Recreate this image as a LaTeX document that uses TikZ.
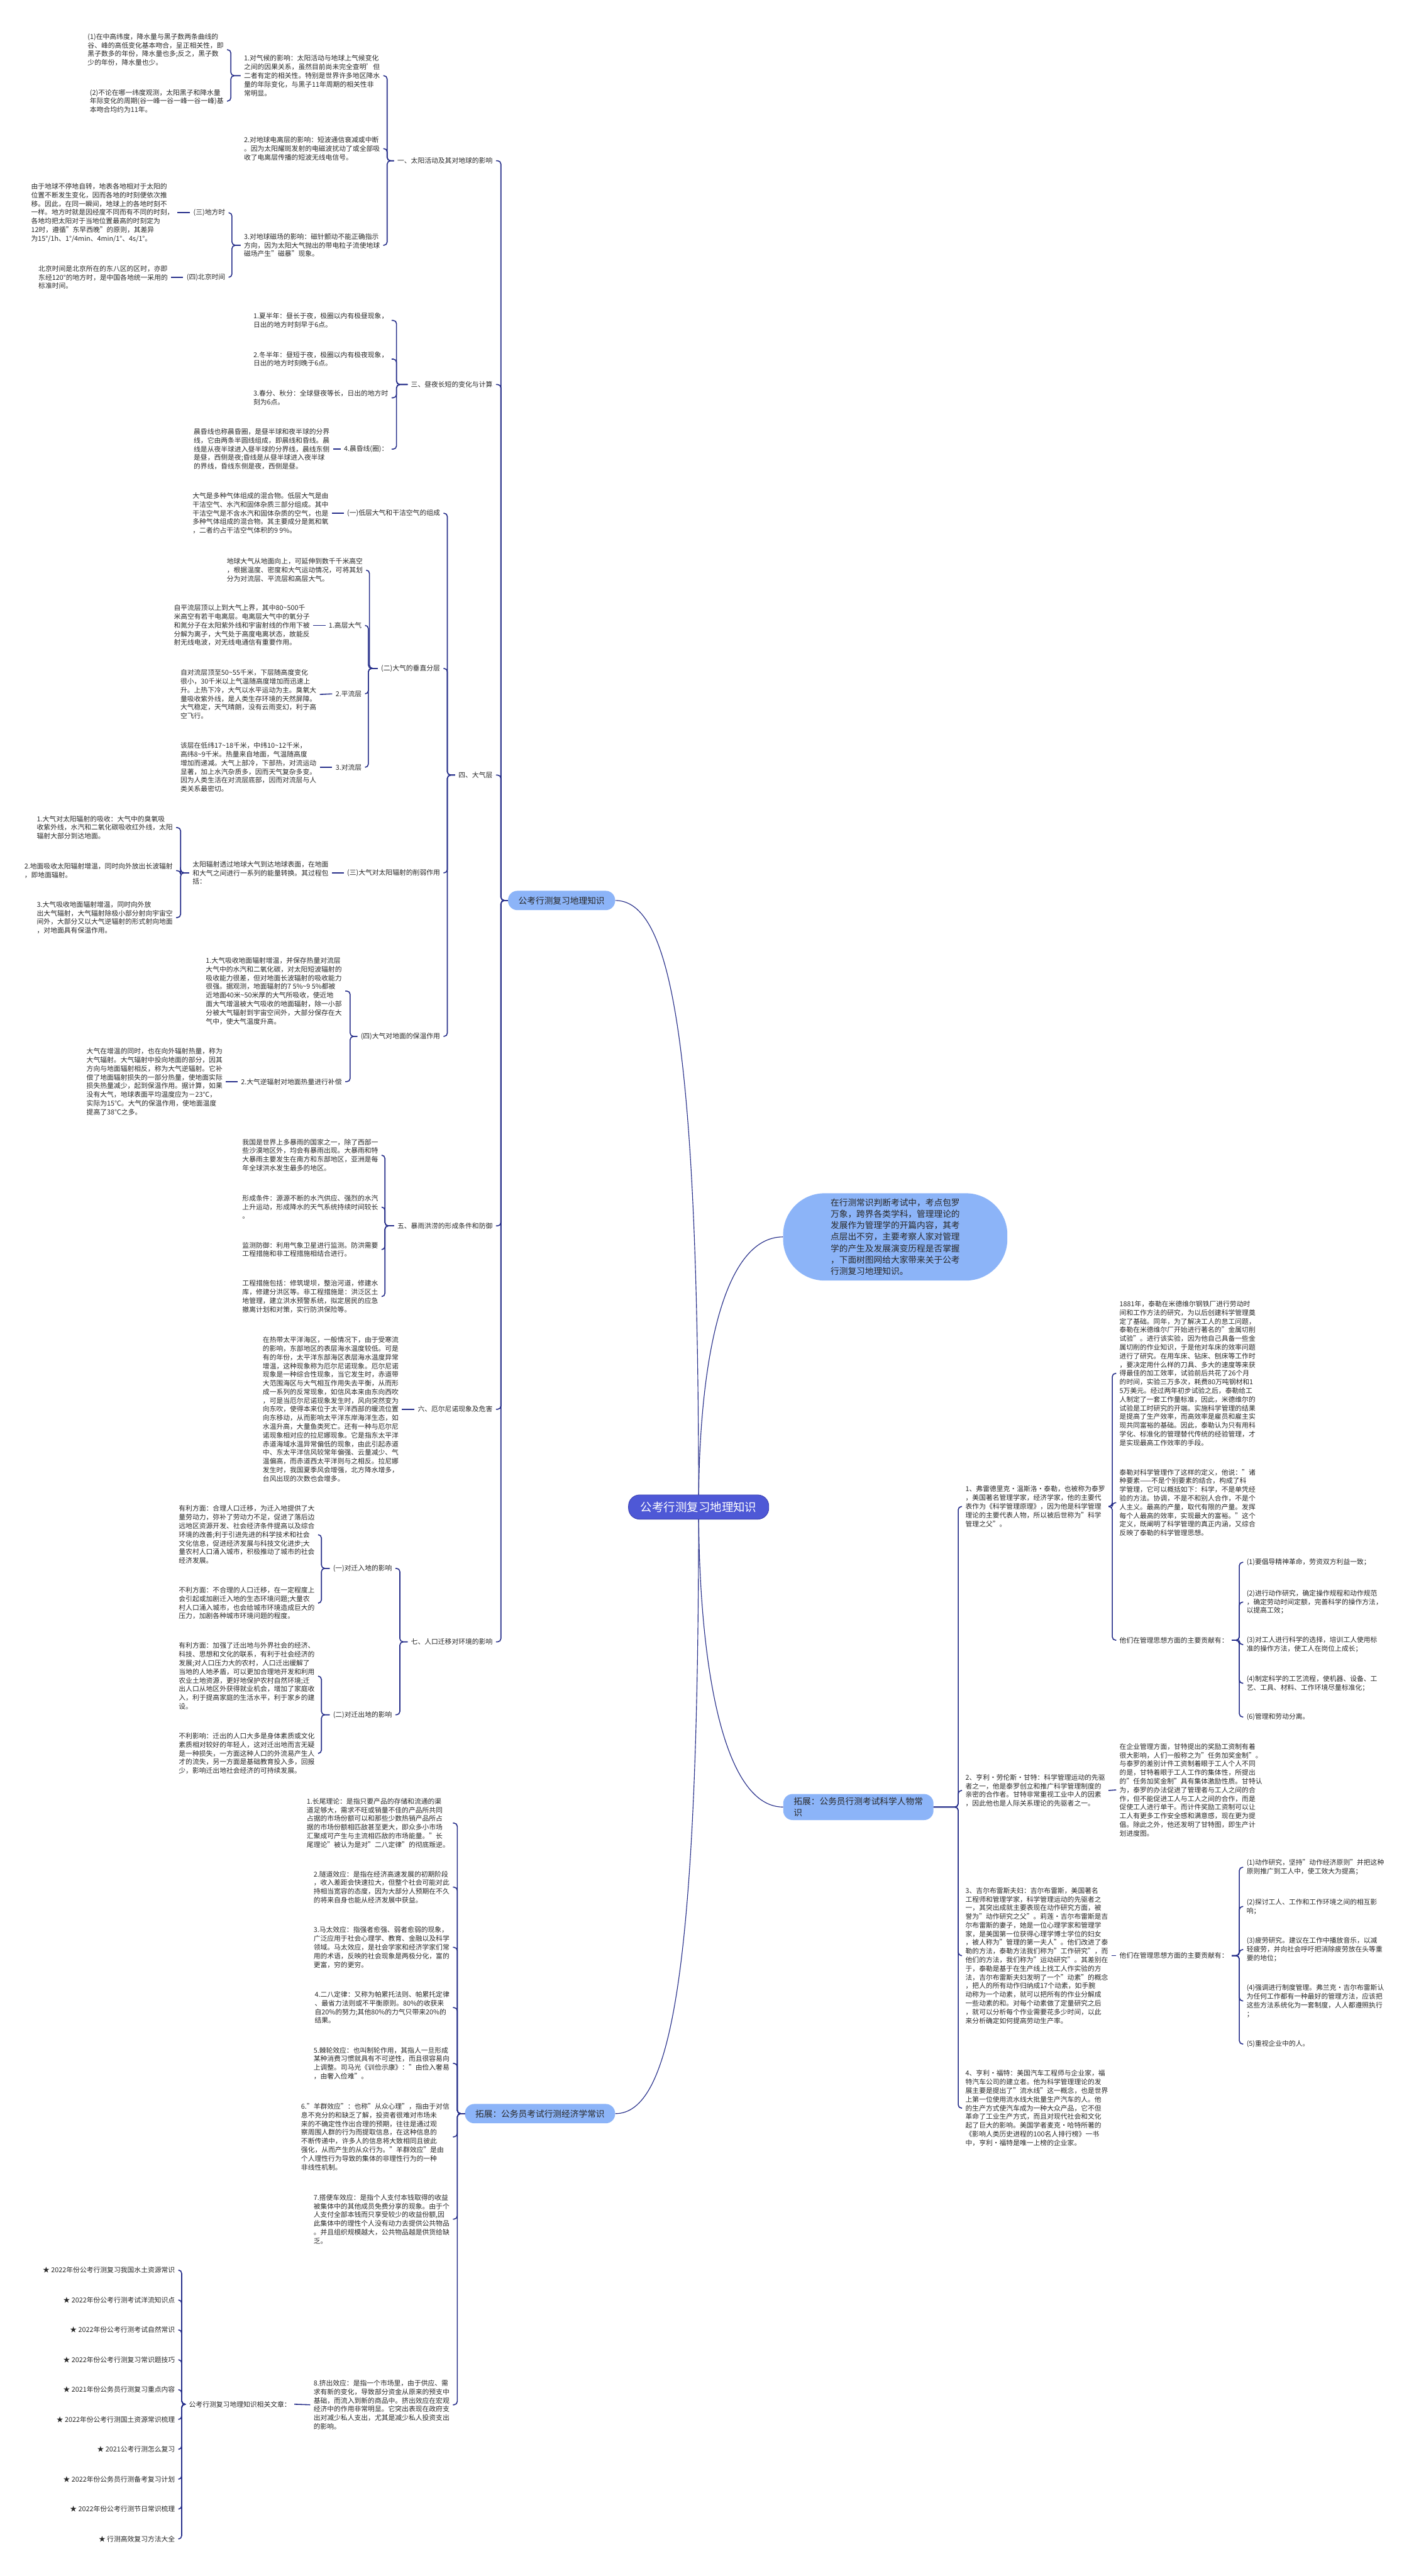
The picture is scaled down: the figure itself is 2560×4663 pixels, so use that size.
\documentclass[tikz,border=0pt]{standalone}
\usepackage{fontspec}
\setmainfont{Noto Sans CJK SC}
\usetikzlibrary{calc,backgrounds}

\definecolor{linkblue}{RGB}{38,46,138}
\definecolor{rootblue}{RGB}{78,88,214}
\definecolor{rootedge}{RGB}{58,64,178}
\definecolor{paleblue}{RGB}{140,180,248}
\definecolor{inkgray}{RGB}{40,40,40}

\newcommand\leaffont{\fontsize{12.3}{15.7}\selectfont}
\newcommand\xtil{\textasciitilde}

\tikzset{
  conn/.style={draw=linkblue, line width=1.8pt, rounded corners=6pt},
  curve/.style={draw=linkblue, line width=1.3pt},
  leaf/.style={font=\leaffont, text=inkgray, align=left, inner xsep=6pt, inner ysep=2pt},
  lleaf/.style={leaf, anchor=east},
  rleaf/.style={leaf, anchor=west},
  rootbox/.style={fill=rootblue, draw=rootedge, line width=1pt, rounded corners=20pt,
    text=white, font=\fontsize{21}{25}\selectfont, minimum height=44pt, inner xsep=22pt},
  mainbox/.style={fill=paleblue, rounded corners=17pt, text=inkgray, align=left,
    font=\fontsize{15.6}{20.7}\selectfont, minimum height=35pt, inner xsep=19pt},
  introbox/.style={fill=paleblue, rounded corners=75pt, text=inkgray, align=left,
    font=\fontsize{15.6}{20.7}\selectfont, minimum width=406pt, minimum height=158pt}
}

\begin{document}
\begin{tikzpicture}[x=1pt,y=-1pt]
\useasboundingbox (0,0) rectangle (2560,4663);

% centre and first level
\node[rootbox] (root) at (1265,2728) {公考行测复习地理知识};
\node[introbox] (intro) at (1621,2239) {在行测常识判断考试中，考点包罗\\万象，跨界各类学科，管理理论的\\发展作为管理学的开篇内容，其考\\点层出不穷，主要考察人家对管理\\学的产生及发展演变历程是否掌握\\，下面树图网给大家带来关于公考\\行测复习地理知识。};
\node[mainbox, anchor=east] (geo) at (1114,1630) {公考行测复习地理知识};
\node[mainbox, anchor=east] (eco) at (1114,3826) {拓展：公务员考试行测经济学常识};
\node[mainbox, anchor=west, inner ysep=6pt] (sci) at (1418,3271) {拓展：公务员行测考试科学人物常\\识};

% geography chapters
\node[lleaf] (sunA) at (898,291) {一、太阳活动及其对地球的影响};
\node[lleaf] (dayB) at (898,696) {三、昼夜长短的变化与计算};
\node[lleaf] (airC) at (898,1403) {四、大气层};
\node[lleaf] (rainD) at (898,2219) {五、暴雨洪涝的形成条件和防御};
\node[lleaf] (ninoE) at (898,2551) {六、厄尔尼诺现象及危害};
\node[lleaf] (migF) at (898,2972) {七、人口迁移对环境的影响};
\foreach \c in {sunA,dayB,airC,rainD,ninoE,migF}
  \draw[conn] (\c.east) -- ++(9,0) |- (geo.west);

% 一
\node[lleaf] (sun1) at (694,137) {1.对气候的影响：太阳活动与地球上气候变化\\之间的因果关系，虽然目前尚未完全查明'但\\二者有定的相关性。特别是世界许多地区降水\\量的年际变化，与黑子11年周期的相关性非\\常明显。};
\node[lleaf] (sun2) at (694,269) {2.对地球电离层的影响：短波通信衰减或中断\\。因为太阳耀斑发射的电磁波扰动了或全部吸\\收了电离层传播的短波无线电信号。};
\node[lleaf] (sun3) at (694,444) {3.对地球磁场的影响：磁针颤动不能正确指示\\方向，因为太阳大气抛出的带电粒子流使地球\\磁场产生"磁暴"现象。};
\foreach \c in {sun1,sun2,sun3}
  \draw[conn] (\c.east) -- ++(7,0) |- (sunA.west);
\node[lleaf] (sun1a) at (411,90) {(1)在中高纬度，降水量与黑子数两条曲线的\\谷、峰的高低变化基本吻合，呈正相关性，即\\黑子数多的年份，降水量也多;反之，黑子数\\少的年份，降水量也少。};
\node[lleaf] (sun1b) at (411,183) {(2)不论在哪一纬度观测，太阳黑子和降水量\\年际变化的周期(谷一峰一谷一峰一谷一峰)基\\本吻合均约为11年。};
\foreach \c in {sun1a,sun1b}
  \draw[conn] (\c.east) -- ++(7,0) |- (sun1.west);
\node[lleaf] (local) at (414,385) {(三)地方时};
\node[lleaf] (bjt) at (414,502) {(四)北京时间};
\foreach \c in {local,bjt}
  \draw[conn] (\c.east) -- ++(6,0) |- (sun3.west);
\node[lleaf] (localtxt) at (321,385) {由于地球不停地自转，地表各地相对于太阳的\\位置不断发生变化，因而各地的时刻便依次推\\移。因此，在同一瞬间，地球上的各地时刻不\\一样。地方时就是因经度不同而有不同的时刻，\\各地均把太阳对于当地位置最高的时刻定为\\12时，遵循"东早西晚"的原则，其差异\\为15°/1h、1°/4min、4min/1°、4s/1°。};
\node[lleaf] (bjttxt) at (310,502) {北京时间是北京所在的东八区的区时，亦即\\东经120°的地方时，是中国各地统一采用的\\标准时间。};
\draw[conn] (localtxt.east) -- (local.west);
\draw[conn] (bjttxt.east) -- (bjt.west);

% 三
\node[lleaf] (day1) at (709,580) {1.夏半年：昼长于夜，极圈以内有极昼现象，\\日出的地方时刻早于6点。};
\node[lleaf] (day2) at (709,650) {2.冬半年：昼短于夜，极圈以内有极夜现象，\\日出的地方时刻晚于6点。};
\node[lleaf] (day3) at (709,720) {3.春分、秋分：全球昼夜等长，日出的地方时\\刻为6点。};
\node[lleaf] (day4) at (709,813) {4.晨昏线(圈)：};
\foreach \c in {day1,day2,day3,day4}
  \draw[conn] (\c.east) -- ++(9,0) |- (dayB.west);
\node[lleaf] (day4txt) at (603,813) {晨昏线也称晨昏圈，是昼半球和夜半球的分界\\线，它由两条半圆线组成，即晨线和昏线。晨\\线是从夜半球进入昼半球的分界线，晨线东侧\\是昼，西侧是夜;昏线是从昼半球进入夜半球\\的界线，昏线东侧是夜，西侧是昼。};
\draw[conn] (day4txt.east) -- (day4.west);

% 四
\node[lleaf] (air1) at (803,929) {(一)低层大气和干洁空气的组成};
\node[lleaf] (air2) at (803,1210) {(二)大气的垂直分层};
\node[lleaf] (air3) at (803,1580) {(三)大气对太阳辐射的削弱作用};
\node[lleaf] (air4) at (803,1876) {(四)大气对地面的保温作用};
\foreach \c in {air1,air2,air3,air4}
  \draw[conn] (\c.east) -- ++(7,0) |- (airC.west);
\node[lleaf] (air1txt) at (601,929) {大气是多种气体组成的混合物。低层大气是由\\干洁空气、水汽和固体杂质三部分组成。其中\\干洁空气是不含水汽和固体杂质的空气，也是\\多种气体组成的混合物。其主要成分是氮和氧\\，二者约占干洁空气体积的9 9\%。};
\draw[conn] (air1txt.east) -- (air1.west);
\node[lleaf] (air2o) at (663,1032) {地球大气从地面向上，可延伸到数千千米高空\\，根据温度、密度和大气运动情况，可将其划\\分为对流层、平流层和高层大气。};
\node[lleaf] (air2a) at (661,1132) {1.高层大气};
\node[lleaf] (air2b) at (661,1256) {2.平流层};
\node[lleaf] (air2c) at (661,1389) {3.对流层};
\foreach \c in {air2o,air2a,air2b,air2c}
  \draw[conn] (\c.east) -- ++(6,0) |- (air2.west);
\node[lleaf] (air2atxt) at (567,1132) {自平流层顶以上到大气上界，其中80\xtil{}500千\\米高空有若干电离层。电离层大气中的氧分子\\和氮分子在太阳紫外线和宇宙射线的作用下被\\分解为离子，大气处于高度电离状态，故能反\\射无线电波，对无线电通信有重要作用。};
\node[lleaf] (air2btxt) at (579,1257) {自对流层顶至50\xtil{}55千米，下层随高度变化\\很小，30千米以上气温随高度增加而迅速上\\升。上热下冷，大气以水平运动为主。臭氧大\\量吸收紫外线，是人类生存环境的天然屏障。\\大气稳定，天气晴朗，没有云雨变幻，利于高\\空飞行。};
\node[lleaf] (air2ctxt) at (579,1389) {该层在低纬17\xtil{}18千米，中纬10\xtil{}12千米，\\高纬8\xtil{}9千米。热量来自地面，气温随高度\\增加而递减。大气上部冷，下部热，对流运动\\显著，加上水汽杂质多，因而天气复杂多变。\\因为人类生活在对流层底部，因而对流层与人\\类关系最密切。};
\draw[conn] (air2atxt.east) -- (air2a.west);
\draw[conn] (air2btxt.east) -- (air2b.west);
\draw[conn] (air2ctxt.east) -- (air2c.west);
\node[lleaf] (air3txt) at (601,1580) {太阳辐射透过地球大气到达地球表面，在地面\\和大气之间进行一系列的能量转换。其过程包\\括：};
\draw[conn] (air3txt.east) -- (air3.west);
\node[lleaf] (air3x) at (319,1498) {1.大气对太阳辐射的吸收：大气中的臭氧吸\\收紫外线，水汽和二氧化碳吸收红外线，太阳\\辐射大部分到达地面。};
\node[lleaf] (air3y) at (319,1576) {2.地面吸收太阳辐射增温，同时向外放出长波辐射\\，即地面辐射。};
\node[lleaf] (air3z) at (319,1661) {3.大气吸收地面辐射增温，同时向外放\\出大气辐射，大气辐射除极小部分射向宇宙空\\间外，大部分又以大气逆辐射的形式射向地面\\，对地面具有保温作用。};
\foreach \c in {air3x,air3y,air3z}
  \draw[conn] (\c.east) -- ++(8,0) |- (air3txt.west);
\node[lleaf] (air4a) at (625,1794) {1.大气吸收地面辐射增温，并保存热量对流层\\大气中的水汽和二氧化碳，对太阳短波辐射的\\吸收能力很差，但对地面长波辐射的吸收能力\\很强。据观测，地面辐射的7 5\%\xtil{}9 5\%都被\\近地面40米\xtil{}50米厚的大气所吸收，使近地\\面大气增温被大气吸收的地面辐射，除一小部\\分被大气辐射到宇宙空间外，大部分保存在大\\气中，使大气温度升高。};
\node[lleaf] (air4b) at (625,1958) {2.大气逆辐射对地面热量进行补偿};
\foreach \c in {air4a,air4b}
  \draw[conn] (\c.east) -- ++(9,0) |- (air4.west);
\node[lleaf] (air4btxt) at (409,1958) {大气在增温的同时，也在向外辐射热量，称为\\大气辐射。大气辐射中投向地面的部分，因其\\方向与地面辐射相反，称为大气逆辐射。它补\\偿了地面辐射损失的一部分热量，使地面实际\\损失热量减少，起到保温作用。据计算，如果\\没有大气，地球表面平均温度应为－23℃，\\实际为15℃。大气的保温作用，使地面温度\\提高了38℃之多。};
\draw[conn] (air4btxt.east) -- (air4b.west);

% 五
\node[lleaf] (rain1) at (691,2091) {我国是世界上多暴雨的国家之一，除了西部一\\些沙漠地区外，均会有暴雨出现。大暴雨和特\\大暴雨主要发生在南方和东部地区，亚洲是每\\年全球洪水发生最多的地区。};
\node[lleaf] (rain2) at (691,2185) {形成条件：源源不断的水汽供应、强烈的水汽\\上升运动，形成降水的天气系统持续时间较长\\。};
\node[lleaf] (rain3) at (691,2262) {监测防御：利用气象卫星进行监测。防洪需要\\工程措施和非工程措施相结合进行。};
\node[lleaf] (rain4) at (691,2347) {工程措施包括：修筑堤坝，整治河道，修建水\\库，修建分洪区等。非工程措施是：洪泛区土\\地管理，建立洪水预警系统，拟定居民的应急\\撤离计划和对策，实行防洪保险等。};
\foreach \c in {rain1,rain2,rain3,rain4}
  \draw[conn] (\c.east) -- ++(6,0) |- (rainD.west);

% 六
\node[lleaf] (ninotxt) at (728,2551) {在热带太平洋海区，一般情况下，由于受寒流\\的影响，东部地区的表层海水温度较低。可是\\有的年份，太平洋东部海区表层海水温度异常\\增温，这种现象称为厄尔尼诺现象。厄尔尼诺\\现象是一种综合性现象，当它发生时，赤道带\\大范围海区与大气相互作用失去平衡，从而形\\成一系列的反常现象，如信风本来由东向西吹\\，可是当厄尔尼诺现象发生时，风向突然变为\\向东吹，使得本来位于太平洋西部的暖流位置\\向东移动，从而影响太平洋东岸海洋生态，如\\水温升高，大量鱼类死亡。还有一种与厄尔尼\\诺现象相对应的拉尼娜现象。它是指东太平洋\\赤道海域水温异常偏低的现象，由此引起赤道\\中、东太平洋信风较常年偏强、云量减少、气\\温偏高，而赤道西太平洋则与之相反。拉尼娜\\发生时，我国夏季风会增强，北方降水增多，\\台风出现的次数也会增多。};
\draw[conn] (ninotxt.east) -- (ninoE.west);

% 七
\node[lleaf] (migin) at (716,2839) {(一)对迁入地的影响};
\node[lleaf] (migout) at (716,3104) {(二)对迁出地的影响};
\foreach \c in {migin,migout}
  \draw[conn] (\c.east) -- ++(8,0) |- (migF.west);
\node[lleaf] (migin1) at (576,2778) {有利方面：合理人口迁移，为迁入地提供了大\\量劳动力，弥补了劳动力不足，促进了落后边\\远地区资源开发、社会经济条件提高以及综合\\环境的改善;利于引进先进的科学技术和社会\\文化信息，促进经济发展与科技文化进步;大\\量农村人口涌入城市，积极推动了城市的社会\\经济发展。};
\node[lleaf] (migin2) at (576,2902) {不利方面：不合理的人口迁移，在一定程度上\\会引起或加剧迁入地的生态环境问题;大量农\\村人口涌入城市，也会给城市环境造成巨大的\\压力，加剧各种城市环境问题的程度。};
\foreach \c in {migin1,migin2}
  \draw[conn] (\c.east) -- ++(6,0) |- (migin.west);
\node[lleaf] (migout1) at (576,3034) {有利方面：加强了迁出地与外界社会的经济、\\科技、思想和文化的联系，有利于社会经济的\\发展;对人口压力大的农村，人口迁出缓解了\\当地的人地矛盾，可以更加合理地开发和利用\\农业土地资源，更好地保护农村自然环境;迁\\出人口从地区外获得就业机会，增加了家庭收\\入，利于提高家庭的生活水平，利于家乡的建\\设。};
\node[lleaf] (migout2) at (576,3174) {不利影响：迁出的人口大多是身体素质或文化\\素质相对较好的年轻人，这对迁出地而言无疑\\是一种损失，一方面这种人口的外流易产生人\\才的流失，另一方面是基础教育投入多，回报\\少，影响迁出地社会经济的可持续发展。};
\foreach \c in {migout1,migout2}
  \draw[conn] (\c.east) -- ++(6,0) |- (migout.west);

% economics
\node[lleaf] (eco1) at (820,3300) {1.长尾理论：是指只要产品的存储和流通的渠\\道足够大，需求不旺或销量不佳的产品所共同\\占据的市场份额可以和那些少数热销产品所占\\据的市场份额相匹敌甚至更大，即众多小市场\\汇聚成可产生与主流相匹敌的市场能量。"长\\尾理论"被认为是对"二八定律"的彻底叛逆。};
\node[lleaf] (eco2) at (820,3416) {2.隧道效应：是指在经济高速发展的初期阶段\\，收入差距会快速拉大，但整个社会可能对此\\持相当宽容的态度，因为大部分人预期在不久\\的将来自身也能从经济发展中获益。};
\node[lleaf] (eco3) at (820,3525) {3.马太效应：指强者愈强、弱者愈弱的现象，\\广泛应用于社会心理学、教育、金融以及科学\\领域。马太效应，是社会学家和经济学家们常\\用的术语，反映的社会现象是两极分化，富的\\更富，穷的更穷。};
\node[lleaf] (eco4) at (820,3634) {4.二八定律：又称为帕累托法则、帕累托定律\\、最省力法则或不平衡原则。80\%的收获来\\自20\%的努力;其他80\%的力气只带来20\%的\\结果。};
\node[lleaf] (eco5) at (820,3735) {5.棘轮效应：也叫制轮作用，其指人一旦形成\\某种消费习惯就具有不可逆性，而且很容易向\\上调整。司马光《训俭示康》："由俭入奢易\\，由奢入俭难"。};
\node[lleaf] (eco6) at (820,3868) {6."羊群效应"：也称"从众心理"，指由于对信\\息不充分的和缺乏了解，投资者很难对市场未\\来的不确定性作出合理的预期，往往是通过观\\察周围人群的行为而提取信息，在这种信息的\\不断传递中，许多人的信息将大致相同且彼此\\强化，从而产生的从众行为。"羊群效应"是由\\个人理性行为导致的集体的非理性行为的一种\\非线性机制。};
\node[lleaf] (eco7) at (820,4017) {7.搭便车效应：是指个人支付本钱取得的收益\\被集体中的其他成员免费分享的现象。由于个\\人支付全部本钱而只享受较少的收益份额,因\\此集体中的理性个人没有动力去提供公共物品\\。并且组织规模越大，公共物品越是供货给缺\\乏。};
\node[lleaf] (eco8) at (820,4353) {8.挤出效应：是指一个市场里，由于供应、需\\求有新的变化，导致部分资金从原来的预支中\\基础，而流入到新的商品中。挤出效应在宏观\\经济中的作用非常明显。它突出表现在政府支\\出对减少私人支出，尤其是减少私人投资支出\\的影响。};
\foreach \c in {eco1,eco2,eco3,eco4,eco5,eco6,eco7,eco8}
  \draw[conn] (\c.east) -- ++(8,0) |- (eco.west);
\node[lleaf] (arts) at (533,4352) {公考行测复习地理知识相关文章：};
\draw[conn] (arts.east) -- (eco8.west);
\foreach \t [count=\i] in {2022年份公考行测复习我国水土资源常识,2022年份公考行测考试洋流知识点,2022年份公考行测考试自然常识,2022年份公考行测复习常识题技巧,2021年份公务员行测复习重点内容,2022年份公考行测国土资源常识梳理,2021公考行测怎么复习,2022年份公务员行测备考复习计划,2022年份公考行测节日常识梳理,行测高效复习方法大全}{
  \node[lleaf] (art\i) at (323,4055+54.1*\i) {★ \t};
  \draw[conn] (art\i.east) -- ++(6,0) |- (arts.west);
}

% science people
\node[rleaf] (sp1) at (1742,2727) {1、弗雷德里克·温斯洛·泰勒，也被称为泰罗\\，美国著名管理学家，经济学家，他的主要代\\表作为《科学管理原理》，因为他是科学管理\\理论的主要代表人物，所以被后世称为"科学\\管理之父"。};
\node[rleaf] (sp2) at (1742,3241) {2、亨利·劳伦斯·甘特：科学管理运动的先驱\\者之一，他是泰罗创立和推广科学管理制度的\\亲密的合作者。甘特非常重视工业中人的因素\\，因此他也是人际关系理论的先驱者之一。};
\node[rleaf] (sp3) at (1742,3540) {3、吉尔布雷斯夫妇：吉尔布雷斯，美国著名\\工程师和管理学家，科学管理运动的先驱者之\\一，其突出成就主要表现在动作研究方面，被\\誉为"动作研究之父"。莉莲·吉尔布雷斯是吉\\尔布雷斯的妻子，她是一位心理学家和管理学\\家，是美国第一位获得心理学博士学位的妇女\\，被人称为"管理的第一夫人"。他们改进了泰\\勒的方法，泰勒方法我们称为"工作研究"，而\\他们的方法，我们称为"运动研究"。其差别在\\于，泰勒是基于在生产线上找工人作实验的方\\法，吉尔布雷斯夫妇发明了一个"动素"的概念\\，把人的所有动作归纳成17个动素，如手腕\\动称为一个动素，就可以把所有的作业分解成\\一些动素的和。对每个动素做了定量研究之后\\，就可以分析每个作业需要花多少时间，以此\\来分析确定如何提高劳动生产率。};
\node[rleaf] (sp4) at (1742,3816) {4、亨利·福特：美国汽车工程师与企业家，福\\特汽车公司的建立者。他为科学管理理论的发\\展主要是提出了"流水线"这一概念，也是世界\\上第一位使用流水线大批量生产汽车的人。他\\的生产方式使汽车成为一种大众产品，它不但\\革命了工业生产方式，而且对现代社会和文化\\起了巨大的影响。美国学者麦克·哈特所著的\\《影响人类历史进程的100名人排行榜》一书\\中，亨利·福特是唯一上榜的企业家。};
\foreach \c in {sp1,sp2,sp3,sp4}
  \draw[conn] (\c.west) -- ++(-7,0) |- (sci.east);

\node[rleaf] (tay1) at (2021,2486) {1881年，泰勒在米德维尔钢铁厂进行劳动时\\间和工作方法的研究，为以后创建科学管理奠\\定了基础。同年，为了解决工人的怠工问题，\\泰勒在米德维尔厂开始进行著名的"金属切削\\试验"。进行该实验，因为他自己具备一些金\\属切削的作业知识，于是他对车床的效率问题\\进行了研究。在用车床、钻床、刨床等工作时\\，要决定用什么样的刀具、多大的速度等来获\\得最佳的加工效率，试验前后共花了26个月\\的时间，实验三万多次，耗费80万吨钢材和1\\5万美元。经过两年初步试验之后，泰勒给工\\人制定了一套工作量标准，因此，米德维尔的\\试验是工时研究的开端。实施科学管理的结果\\是提高了生产效率，而高效率是雇员和雇主实\\现共同富裕的基础。因此，泰勒认为只有用科\\学化、标准化的管理替代传统的经验管理，才\\是实现最高工作效率的手段。};
\node[rleaf] (tay2) at (2021,2720) {泰勒对科学管理作了这样的定义，他说："诸\\种要素——不是个别要素的结合，构成了科\\学管理，它可以概括如下：科学，不是单凭经\\验的方法。协调，不是不和别人合作，不是个\\人主义。最高的产量，取代有限的产量。发挥\\每个人最高的效率，实现最大的富裕。"这个\\定义，既阐明了科学管理的真正内涵，又综合\\反映了泰勒的科学管理思想。};
\node[rleaf] (tay3) at (2021,2969) {他们在管理思想方面的主要贡献有：};
\foreach \c in {tay1,tay2,tay3}
  \draw[conn] (\c.west) -- ++(-7,0) |- (sp1.east);
\node[rleaf] (tp1) at (2251,2828) {(1)要倡导精神革命，劳资双方利益一致；};
\node[rleaf] (tp2) at (2251,2900) {(2)进行动作研究，确定操作规程和动作规范\\，确定劳动时间定额，完善科学的操作方法，\\以提高工效；};
\node[rleaf] (tp3) at (2251,2977) {(3)对工人进行科学的选择，培训工人使用标\\准的操作方法，使工人在岗位上成长；};
\node[rleaf] (tp4) at (2251,3047) {(4)制定科学的工艺流程，使机器、设备、工\\艺、工具、材料、工作环境尽量标准化；};
\node[rleaf] (tp6) at (2251,3108) {(6)管理和劳动分离。};
\foreach \c in {tp1,tp2,tp3,tp4,tp6}
  \draw[conn] (\c.west) -- ++(-7,0) |- (tay3.east);

\node[rleaf] (gan) at (2021,3240) {在企业管理方面，甘特提出的奖励工资制有着\\很大影响，人们一般称之为"任务加奖金制"。\\与泰罗的差别计件工资制着眼于工人个人不同\\的是，甘特着眼于工人工作的集体性，所提出\\的"任务加奖金制"具有集体激励性质。甘特认\\为，泰罗的办法促进了管理者与工人之间的合\\作，但不能促进工人与工人之间的合作，而是\\促使工人进行单干。而计件奖励工资制可以让\\工人有更多工作安全感和满意感，现在更为提\\倡。除此之外，他还发明了甘特图，即生产计\\划进度图。};
\draw[conn] (sp2.east) -- (gan.west);

\node[rleaf] (gil) at (2021,3540) {他们在管理思想方面的主要贡献有：};
\draw[conn] (sp3.east) -- (gil.west);
\node[rleaf] (gp1) at (2251,3380) {(1)动作研究，坚持"动作经济原则"并把这种\\原则推广到工人中，使工效大为提高；};
\node[rleaf] (gp2) at (2251,3451) {(2)探讨工人、工作和工作环境之间的相互影\\响；};
\node[rleaf] (gp3) at (2251,3529) {(3)疲劳研究。建议在工作中播放音乐，以减\\轻疲劳，并向社会呼吁把消除疲劳放在头等重\\要的地位；};
\node[rleaf] (gp4) at (2251,3622) {(4)强调进行制度管理。弗兰克·吉尔布雷斯认\\为任何工作都有一种最好的管理方法，应该把\\这些方法系统化为一套制度，人人都遵照执行\\；};
\node[rleaf] (gp5) at (2251,3700) {(5)重视企业中的人。};
\foreach \c in {gp1,gp2,gp3,gp4,gp5}
  \draw[conn] (\c.west) -- ++(-7,0) |- (gil.east);

% curves from the centre
\begin{scope}[on background layer]
  \fill[white] (0,0) rectangle (2560,4663);
  \draw[curve] (geo.east) .. controls ($(geo.east)+(100,0)$) and ($(root.center)+(0,-850)$) .. (root.center);
  \draw[curve] (eco.east) .. controls ($(eco.east)+(100,0)$) and ($(root.center)+(0,850)$) .. (root.center);
  \draw[curve] (intro.west) .. controls ($(intro.west)+(-110,0)$) and ($(root.center)+(0,-260)$) .. (root.center);
  \draw[curve] (sci.west) .. controls ($(sci.west)+(-110,0)$) and ($(root.center)+(0,280)$) .. (root.center);
\end{scope}
\end{tikzpicture}
\end{document}
